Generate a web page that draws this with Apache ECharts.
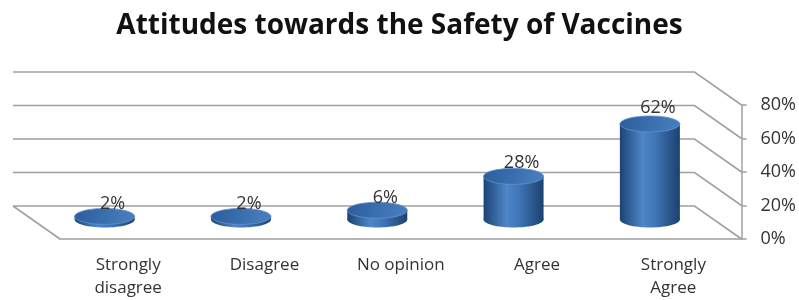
<!DOCTYPE html>
<html>
<head>
<meta charset="utf-8">
<title>Attitudes towards the Safety of Vaccines</title>
<script src="https://cdn.jsdelivr.net/npm/echarts@6/dist/echarts.min.js"></script>
<style>
    html, body { margin: 0; padding: 0; background: #fff; }
    #storage { width: 799px; height: 300px; }
</style>
</head>
<body>
<div id="storage"></div>
<script>
var categories = ["Strongly\ndisagree", "Disagree", "No opinion", "Agree", "Strongly\nAgree"];
var percents = [2, 2, 6, 28, 62];
var yTicks = [0, 20, 40, 60, 80];

// depth of the fake 3d box
var depthX = 47, depthY = 33;

var page = {
    init: function () {
        var storage = echarts.init(document.getElementById("storage"));
        var wallData = [];
        for (var i = 0; i < yTicks.length; i++) {
            wallData.push([0, yTicks[i]]);
        }
        var barData = [];
        for (var j = 0; j < percents.length; j++) {
            barData.push([j, percents[j]]);
        }
        var options = {
            animation: false,
            title: {
                text: "Attitudes towards the Safety of Vaccines",
                left: "center",
                top: 7,
                textStyle: { fontFamily: "Open Sans", fontSize: 28, fontWeight: "bold", color: "#111" }
            },
            grid: { left: 60, right: 57, top: 105, bottom: 59 },
            xAxis: {
                type: "category",
                data: categories,
                axisLine: { lineStyle: { color: "#a0a0a0", width: 1.5 } },
                axisTick: { length: 5, lineStyle: { color: "#a0a0a0", width: 1.5 } },
                axisLabel: { fontFamily: "Open Sans", fontSize: 17, color: "#333", lineHeight: 23, margin: 15 }
            },
            yAxis: {
                type: "value",
                position: "right",
                min: 0,
                max: 80,
                interval: 20,
                splitLine: { show: false },
                axisLine: { show: true, lineStyle: { color: "#a0a0a0", width: 1.5 } },
                axisTick: { show: true, length: 5, lineStyle: { color: "#a0a0a0", width: 1.5 } },
                axisLabel: { fontFamily: "Open Sans", fontSize: 18, color: "#333", margin: 19, formatter: "{value}%" }
            },
            series: [
                {
                    // back wall grid lines + side diagonals
                    type: "custom",
                    data: wallData,
                    silent: true,
                    z: 1,
                    renderItem: function (params, api) {
                        var cs = params.coordSys;
                        var y = api.coord([0, api.value(1)])[1];
                        var right = cs.x + cs.width;
                        var children = [{
                            type: "polyline",
                            shape: { points: [[cs.x - depthX, y - depthY], [right - depthX, y - depthY], [right, y]] },
                            style: { stroke: "#a0a0a0", lineWidth: 1.6, fill: null }
                        }];
                        if (api.value(1) === 0) {
                            children.push({
                                type: "line",
                                shape: { x1: cs.x - depthX, y1: y - depthY, x2: cs.x, y2: y },
                                style: { stroke: "#a0a0a0", lineWidth: 1.6 }
                            });
                        }
                        return { type: "group", children: children };
                    }
                },
                {
                    // cylinders, standing mid-depth (slightly shorter than the front scale)
                    type: "custom",
                    data: barData,
                    z: 3,
                    renderItem: function (params, api) {
                        var p0 = api.coord([api.value(0), 0]);
                        var p1 = api.coord([api.value(0), api.value(1)]);
                        var h = (p0[1] - p1[1]) * 0.92;
                        var cx = p0[0] - depthX / 2;
                        var yb = p0[1] - depthY / 2 - 3;
                        var yt = yb - h;
                        var w = 60, ry = 8;
                        var body = new echarts.graphic.LinearGradient(0, 0, 1, 0, [
                            { offset: 0, color: "#1c4374" },
                            { offset: 0.38, color: "#4e86c8" },
                            { offset: 0.6, color: "#3f74b5" },
                            { offset: 1, color: "#1b416f" }
                        ]);
                        return {
                            type: "group",
                            children: [
                                { type: "ellipse", shape: { cx: cx, cy: yb, rx: w / 2, ry: ry }, style: { fill: body } },
                                { type: "rect", shape: { x: cx - w / 2, y: yt, width: w, height: yb - yt }, style: { fill: body } },
                                {
                                    type: "ellipse",
                                    shape: { cx: cx, cy: yt, rx: w / 2, ry: ry },
                                    style: {
                                        fill: new echarts.graphic.LinearGradient(0, 0, 1, 1, [
                                            { offset: 0, color: "#2c5d9c" },
                                            { offset: 1, color: "#4a80c2" }
                                        ]),
                                        stroke: "#6092cf",
                                        lineWidth: 0.8
                                    }
                                },
                                {
                                    type: "text",
                                    x: cx + 8,
                                    y: yt - 12 - h * 0.04,
                                    style: {
                                        text: api.value(1) + "%",
                                        font: "18px 'Open Sans'",
                                        fill: "#333",
                                        align: "center",
                                        verticalAlign: "middle"
                                    }
                                }
                            ]
                        };
                    }
                }
            ]
        };
        storage.setOption(options, true);
    }
};

page.init();
</script>
</body>
</html>
